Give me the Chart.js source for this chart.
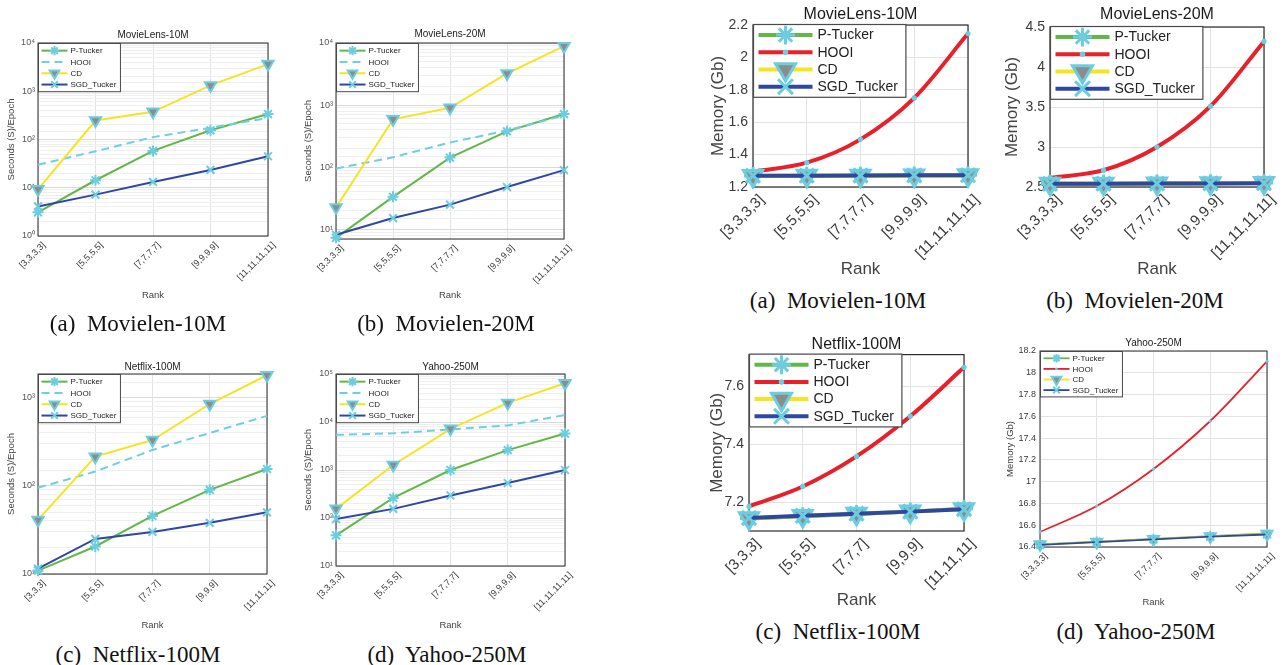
<!DOCTYPE html>
<html>
<head>
<meta charset="utf-8">
<script src="https://cdn.jsdelivr.net/npm/chart.js@4.4.0/dist/chart.umd.min.js"></script>
<style>
  body { margin: 0; background: #fff; width: 1285px; height: 665px; position: relative; overflow: hidden; }
  .box { position: absolute; }
  .cap { position: absolute; font-family: "Liberation Serif", "DejaVu Serif", serif; font-size: 23px; color: #111;
         transform: translate(-50%, -50%); white-space: pre; line-height: 1; }
</style>
</head>
<body>
<div class="box" id="b1"><canvas id="c1"></canvas></div>
<div class="box" id="b2"><canvas id="c2"></canvas></div>
<div class="box" id="b3"><canvas id="c3"></canvas></div>
<div class="box" id="b4"><canvas id="c4"></canvas></div>
<div class="box" id="b5"><canvas id="c5"></canvas></div>
<div class="box" id="b6"><canvas id="c6"></canvas></div>
<div class="box" id="b7"><canvas id="c7"></canvas></div>
<div class="box" id="b8"><canvas id="c8"></canvas></div>

<div class="cap" style="left:138px;top:323px">(a)  Movielen-10M</div>
<div class="cap" style="left:446px;top:323px">(b)  Movielen-20M</div>
<div class="cap" style="left:138px;top:654px">(c)  Netflix-100M</div>
<div class="cap" style="left:447px;top:654px">(d)  Yahoo-250M</div>
<div class="cap" style="left:838px;top:300px">(a)  Movielen-10M</div>
<div class="cap" style="left:1135px;top:300px">(b)  Movielen-20M</div>
<div class="cap" style="left:838px;top:631px">(c)  Netflix-100M</div>
<div class="cap" style="left:1136px;top:631px">(d)  Yahoo-250M</div>

<script>
// ---- data ----
const rank4 = ['[3,3,3,3]', '[5,5,5,5]', '[7,7,7,7]', '[9,9,9,9]', '[11,11,11,11]'];
const rank3 = ['[3,3,3]', '[5,5,5]', '[7,7,7]', '[9,9,9]', '[11,11,11]'];

// seconds per epoch (log axis)
const ml10TimePTucker = [3.1, 14.3, 58, 155, 337];
const ml10TimeHOOI    = [30, 57, 112, 175, 280];
const ml10TimeCD      = [9.3, 247, 375, 1320, 3650];
const ml10TimeSGD     = [4.1, 7.2, 13.2, 23.4, 45];

const ml20TimePTucker = [7.3, 33.4, 143, 378, 718];
const ml20TimeHOOI    = [95, 145, 250, 390, 680];
const ml20TimeCD      = [22.5, 590, 905, 3230, 8900];
const ml20TimeSGD     = [8.2, 15.2, 25, 48, 90];

const nfTimePTucker = [10.9, 20.5, 45.5, 90, 155];
const nfTimeHOOI    = [95, 145, 255, 397, 620];
const nfTimeCD      = [41, 214, 330, 845, 1790];
const nfTimeSGD     = [11.5, 25, 30, 38, 50];

const yhTimePTucker = [43.6, 262, 1000, 2600, 5750];
const yhTimeHOOI    = [5400, 5800, 7000, 8500, 14000];
const yhTimeCD      = [155, 1270, 7200, 25000, 64000];
const yhTimeSGD     = [95, 155, 295, 535, 1000];

// memory (Gb)
const ml10MemPTucker = [1.268, 1.269, 1.27, 1.271, 1.272];
const ml10MemHOOI    = [1.295, 1.35, 1.494, 1.75, 2.147];
const ml10MemCD      = [1.268, 1.269, 1.27, 1.271, 1.272];
const ml10MemSGD     = [1.27, 1.27, 1.271, 1.272, 1.273];
const ml10MemTicks   = [1.2, 1.4, 1.6, 1.8, 2.0, 2.2];

const ml20MemPTucker = [2.54, 2.542, 2.545, 2.548, 2.55];
const ml20MemHOOI    = [2.613, 2.71, 3.0, 3.51, 4.32];
const ml20MemCD      = [2.54, 2.542, 2.545, 2.548, 2.55];
const ml20MemSGD     = [2.54, 2.541, 2.543, 2.545, 2.547];
const ml20MemTicks   = [2.5, 3, 3.5, 4, 4.5];

const nfMemPTucker = [7.143, 7.151, 7.159, 7.167, 7.177];
const nfMemHOOI    = [7.185, 7.254, 7.358, 7.497, 7.666];
const nfMemCD      = [7.144, 7.152, 7.16, 7.167, 7.175];
const nfMemSGD     = [7.145, 7.153, 7.16, 7.167, 7.175];
const nfMemTicks   = [7.2, 7.4, 7.6];

const yhMemPTucker = [16.425, 16.45, 16.475, 16.5, 16.525];
const yhMemHOOI    = [16.538, 16.776, 17.116, 17.557, 18.105];
const yhMemCD      = [16.422, 16.447, 16.472, 16.497, 16.52];
const yhMemSGD     = [16.42, 16.445, 16.47, 16.495, 16.515];
const yhMemTicks   = [16.4, 16.6, 16.8, 17, 17.2, 17.4, 17.6, 17.8, 18, 18.2];

// ---- styles ----
const FONT = '"Liberation Sans", Arial, sans-serif';
const GREEN = '#62b847', RED = '#e8202a', YELLOW = '#f6e423', BLUE = '#2e47a0';
const CYAN = '#6ccde0', GRAY = '#8c8c8c', HOOI_DASH = '#6fcfe2';
const SUP = ['\u2070', '\u00b9', '\u00b2', '\u00b3', '\u2074', '\u2075'];

function isDecade(v) {
  if (!v) return false;
  const e = Math.log10(v);
  return Math.abs(e - Math.round(e)) < 1e-9;
}

function timeDatasets(pt, hooi, cd, sgd) {
  return [
    { label: 'P-Tucker', data: pt, borderColor: GREEN, borderWidth: 2, pointStyle: 'star', pointRadius: 5.5,
      pointBorderColor: CYAN, pointBackgroundColor: CYAN, pointBorderWidth: 2, order: 4 },
    { label: 'HOOI', data: hooi, borderColor: HOOI_DASH, borderWidth: 2, borderDash: [8, 5], pointRadius: 0, order: 3 },
    { label: 'CD', data: cd, borderColor: YELLOW, borderWidth: 2, pointStyle: 'triangle', pointRotation: 180, pointRadius: 6.5,
      pointBackgroundColor: GRAY, pointBorderColor: CYAN, pointBorderWidth: 2, order: 2 },
    { label: 'SGD_Tucker', data: sgd, borderColor: BLUE, borderWidth: 2, pointStyle: 'crossRot', pointRadius: 5.5,
      pointBorderColor: CYAN, pointBackgroundColor: CYAN, pointBorderWidth: 2, order: 1 }
  ];
}

function memDatasets(pt, hooi, cd, sgd, s) {
  return [
    { label: 'P-Tucker', data: pt, borderColor: GREEN, borderWidth: s.lw, pointStyle: 'star', pointRadius: s.star,
      pointBorderColor: CYAN, pointBackgroundColor: CYAN, pointBorderWidth: s.mw, order: 4 },
    { label: 'HOOI', data: hooi, borderColor: RED, borderWidth: s.lw, cubicInterpolationMode: 'monotone',
      pointStyle: 'circle', pointRadius: s.dot, pointBackgroundColor: CYAN, pointBorderColor: CYAN, pointBorderWidth: 0, order: 3 },
    { label: 'CD', data: cd, borderColor: YELLOW, borderWidth: s.lw, pointStyle: 'triangle', pointRotation: 180, pointRadius: s.tri,
      pointBackgroundColor: GRAY, pointBorderColor: CYAN, pointBorderWidth: s.mw, order: 2 },
    { label: 'SGD_Tucker', data: sgd, borderColor: BLUE, borderWidth: s.lw, pointStyle: 'crossRot', pointRadius: s.x,
      pointBorderColor: CYAN, pointBackgroundColor: CYAN, pointBorderWidth: s.mw, order: 1 }
  ];
}

function drawMarker(ctx, d, x, y, k) {
  const r = (d.pointRadius || 0) * k;
  if (!r) return;
  ctx.save();
  ctx.translate(x, y);
  ctx.rotate((d.pointRotation || 0) * Math.PI / 180);
  ctx.setLineDash([]);
  ctx.lineWidth = d.pointBorderWidth || 1;
  ctx.strokeStyle = d.pointBorderColor;
  ctx.fillStyle = d.pointBackgroundColor;
  ctx.beginPath();
  if (d.pointStyle === 'triangle') {
    for (let i = 0; i < 3; i++) {
      const t = i * 2 * Math.PI / 3;
      ctx.lineTo(Math.sin(t) * r, -Math.cos(t) * r);
    }
    ctx.closePath(); ctx.fill(); ctx.stroke();
  } else if (d.pointStyle === 'circle') {
    ctx.arc(0, 0, r, 0, 2 * Math.PI); ctx.fill();
  } else {
    const q = Math.SQRT1_2 * r;
    ctx.moveTo(-q, -q); ctx.lineTo(q, q); ctx.moveTo(q, -q); ctx.lineTo(-q, q);
    if (d.pointStyle === 'star') { ctx.moveTo(0, -r); ctx.lineTo(0, r); ctx.moveTo(-r, 0); ctx.lineTo(r, 0); }
    ctx.stroke();
  }
  ctx.restore();
}

// MATLAB style full box round the axes
const axesBox = {
  id: 'axesBox',
  beforeDatasetsDraw(chart, args, opts) {
    const a = chart.chartArea, ctx = chart.ctx;
    ctx.save();
    ctx.strokeStyle = opts.color;
    ctx.lineWidth = opts.width;
    ctx.strokeRect(a.left, a.top, a.right - a.left, a.bottom - a.top);
    ctx.restore();
  }
};

// legend drawn inside the plot, top-left
const insideLegend = {
  id: 'insideLegend',
  afterDatasetsDraw(chart, args, o) {
    const ctx = chart.ctx, a = chart.chartArea, ds = chart.data.datasets;
    ctx.save();
    ctx.font = o.size + 'px ' + FONT;
    let tw = 0;
    ds.forEach(d => { tw = Math.max(tw, ctx.measureText(d.label).width); });
    const x0 = a.left + 0.5, y0 = a.top + 0.5 + o.dy;
    const w = o.padL + o.lineLen + o.gap + tw + o.padR;
    const h = o.padT * 2 + o.rowH * ds.length;
    ctx.fillStyle = '#fff';
    ctx.fillRect(x0, y0, w, h);
    ctx.strokeStyle = '#4a4a4a';
    ctx.lineWidth = o.bw;
    ctx.strokeRect(x0, y0, w, h);
    ds.forEach((d, i) => {
      const cy = y0 + o.padT + o.rowH * (i + 0.5);
      const lx = x0 + o.padL;
      ctx.beginPath();
      ctx.setLineDash(d.borderDash || []);
      ctx.strokeStyle = d.borderColor;
      ctx.lineWidth = d.borderWidth;
      ctx.moveTo(lx, cy); ctx.lineTo(lx + o.lineLen, cy);
      ctx.stroke();
      drawMarker(ctx, d, lx + o.lineLen / 2, cy, o.mk);
      ctx.setLineDash([]);
      ctx.fillStyle = '#222';
      ctx.textBaseline = 'middle';
      ctx.textAlign = 'left';
      ctx.fillText(d.label, lx + o.lineLen + o.gap, cy + 0.5);
    });
    ctx.restore();
  }
};

function buildChart(n, g) {
  const holder = document.getElementById('b' + n);
  holder.style.left = g.left + 'px';
  holder.style.top = g.top + 'px';
  holder.style.width = g.W + 'px';
  holder.style.height = g.H + 'px';

  const tLH = g.titleSize * 1.2, aLH = g.axisSize * 1.2;
  const areaT = g.area.t - g.top, areaB = g.area.b - g.top;
  const padL = g.yTitleX - g.left - aLH / 2;
  const padB = g.top + g.H - g.xTitleY - aLH / 2;
  const tPadTop = Math.max(0, g.titleY - g.top - tLH / 2);
  const tPadBot = Math.max(0, areaT - tLH - tPadTop);
  const yW = g.area.l - g.left - padL;
  const xH = g.H - padB - areaB;
  const tickFont = { family: FONT, size: g.tickSize };
  const axFont = { family: FONT, size: g.axisSize };

  let yScale;
  if (g.log) {
    yScale = {
      type: 'logarithmic', min: g.min, max: g.max,
      grid: { drawTicks: false, color: c => (c.tick && isDecade(c.tick.value)) ? '#dadada' : '#efefef' },
      ticks: { autoSkip: false, padding: 3, color: '#555', font: tickFont,
        callback: v => isDecade(v) ? '10' + SUP[Math.round(Math.log10(v))] : '' }
    };
  } else {
    yScale = {
      type: 'linear', min: g.min, max: g.max,
      afterBuildTicks: s => { s.ticks = g.ticks.map(v => ({ value: v })); },
      grid: { drawTicks: false, color: '#e3e3e3' },
      ticks: { autoSkip: false, padding: g.yPad, color: '#3a3a3a', font: tickFont,
        callback: v => String(Math.round(v * 100) / 100) }
    };
  }
  yScale.border = { display: false };
  yScale.title = { display: true, text: g.yTitle, color: '#444', font: axFont, padding: 0 };
  yScale.afterFit = s => { s.width = yW; s.paddingTop = 0; s.paddingBottom = 0; };

  return new Chart(document.getElementById('c' + n), {
    type: 'line',
    data: { labels: g.labels, datasets: g.datasets },
    options: {
      responsive: true, maintainAspectRatio: false, animation: false, events: [],
      datasets: { line: { clip: false } },
      layout: { padding: { left: padL, right: g.left + g.W - g.area.r, top: 0, bottom: padB } },
      plugins: {
        legend: { display: false },
        tooltip: { enabled: false },
        title: { display: true, fullSize: false, text: g.title, color: '#1a1a1a',
          font: { family: FONT, size: g.titleSize, weight: 'normal' }, padding: { top: tPadTop, bottom: tPadBot } },
        axesBox: { color: '#2b2b2b', width: g.boxW },
        insideLegend: g.legend
      },
      scales: {
        x: {
          type: 'category', offset: false,
          grid: { drawTicks: false, color: '#e3e3e3' },
          border: { display: false },
          ticks: { autoSkip: false, minRotation: 45, maxRotation: 45, padding: g.xPad, labelOffset: g.xShift,
            color: '#3a3a3a', font: { family: FONT, size: g.xTickSize } },
          title: { display: true, text: 'Rank', color: '#444', font: axFont, padding: 0 },
          afterFit: s => { s.height = xH; s.paddingLeft = 0; s.paddingRight = 0; }
        },
        y: yScale
      }
    },
    plugins: [axesBox, insideLegend]
  });
}

const smallLegend = { size: 8, rowH: 11.3, padT: 1.5, padL: 3, lineLen: 26, gap: 3, padR: 4, mk: 0.85, bw: 1, dy: 0 };
const bigLegend = { size: 14, rowH: 17.2, padT: 2, padL: 5, lineLen: 54, gap: 5, padR: 8, mk: 1.05, bw: 1.2, dy: -1 };
const timeText = { titleSize: 10, axisSize: 9.5, tickSize: 9, xTickSize: 9, xPad: 4, xShift: 6, boxW: 1 };
const memText = { titleSize: 16, axisSize: 17, tickSize: 14, xTickSize: 15, xPad: 4, xShift: 9, yPad: 5, boxW: 1.2 };
const memThick = { lw: 4, mw: 3, star: 9, dot: 2.6, tri: 11, x: 10 };
const memThin = { lw: 1.8, mw: 2, star: 5, dot: 1.6, tri: 6.5, x: 5.5 };

buildChart(1, Object.assign({}, timeText, {
  left: 0, top: 20, W: 290, H: 285, area: { l: 38, r: 268, t: 43, b: 236 },
  titleY: 35, yTitleX: 11, xTitleY: 295, log: true, min: 1, max: 10000,
  title: 'MovieLens-10M', yTitle: 'Seconds (S)/Epoch', labels: rank4, legend: smallLegend,
  datasets: timeDatasets(ml10TimePTucker, ml10TimeHOOI, ml10TimeCD, ml10TimeSGD)
}));

buildChart(2, Object.assign({}, timeText, {
  left: 290, top: 0, W: 300, H: 305, area: { l: 336, r: 564, t: 43, b: 239 },
  titleY: 34, yTitleX: 308, xTitleY: 295, log: true, min: 7, max: 10000,
  title: 'MovieLens-20M', yTitle: 'Seconds (S)/Epoch', labels: rank4, legend: smallLegend,
  datasets: timeDatasets(ml20TimePTucker, ml20TimeHOOI, ml20TimeCD, ml20TimeSGD)
}));

buildChart(3, Object.assign({}, timeText, {
  left: 0, top: 330, W: 290, H: 305, area: { l: 38, r: 267, t: 374, b: 574 },
  titleY: 367, yTitleX: 11, xTitleY: 625, log: true, min: 10, max: 1850,
  title: 'Netflix-100M', yTitle: 'Seconds (S)/Epoch', labels: rank3, legend: smallLegend,
  datasets: timeDatasets(nfTimePTucker, nfTimeHOOI, nfTimeCD, nfTimeSGD)
}));

buildChart(4, Object.assign({}, timeText, {
  left: 290, top: 330, W: 300, H: 305, area: { l: 336, r: 565, t: 374, b: 566 },
  titleY: 367, yTitleX: 308, xTitleY: 625, log: true, min: 10, max: 100000,
  title: 'Yahoo-250M', yTitle: 'Seconds (S)/Epoch', labels: rank4, legend: smallLegend,
  datasets: timeDatasets(yhTimePTucker, yhTimeHOOI, yhTimeCD, yhTimeSGD)
}));

buildChart(5, Object.assign({}, memText, {
  left: 700, top: 0, W: 285, H: 285, area: { l: 753, r: 968, t: 25, b: 187 },
  titleY: 15, yTitleX: 718, xTitleY: 269, log: false, min: 1.2, max: 2.2, ticks: ml10MemTicks,
  title: 'MovieLens-10M', yTitle: 'Memory (Gb)', labels: rank4, legend: bigLegend,
  datasets: memDatasets(ml10MemPTucker, ml10MemHOOI, ml10MemCD, ml10MemSGD, memThick)
}));

buildChart(6, Object.assign({}, memText, {
  left: 990, top: 0, W: 295, H: 285, area: { l: 1050, r: 1264, t: 27, b: 187 },
  titleY: 15, yTitleX: 1012, xTitleY: 269, log: false, min: 2.5, max: 4.5, ticks: ml20MemTicks,
  title: 'MovieLens-20M', yTitle: 'Memory (Gb)', labels: rank4, legend: bigLegend,
  datasets: memDatasets(ml20MemPTucker, ml20MemHOOI, ml20MemCD, ml20MemSGD, memThick)
}));

buildChart(7, Object.assign({}, memText, {
  left: 700, top: 330, W: 285, H: 285, area: { l: 749, r: 964, t: 353, b: 531 },
  titleY: 345, yTitleX: 717, xTitleY: 600, log: false, min: 7.1, max: 7.71, ticks: nfMemTicks,
  title: 'Netflix-100M', yTitle: 'Memory (Gb)', labels: rank3, legend: bigLegend,
  datasets: memDatasets(nfMemPTucker, nfMemHOOI, nfMemCD, nfMemSGD, memThick)
}));

buildChart(8, Object.assign({}, timeText, {
  left: 990, top: 330, W: 295, H: 285, area: { l: 1040, r: 1267, t: 351, b: 547 },
  titleY: 343, yTitleX: 1010, xTitleY: 602, log: false, min: 16.4, max: 18.2, ticks: yhMemTicks, yPad: 4,
  title: 'Yahoo-250M', yTitle: 'Memory (Gb)', labels: rank4,
  legend: Object.assign({}, smallLegend, { rowH: 10.6 }),
  datasets: memDatasets(yhMemPTucker, yhMemHOOI, yhMemCD, yhMemSGD, memThin)
}));
</script>
</body>
</html>
